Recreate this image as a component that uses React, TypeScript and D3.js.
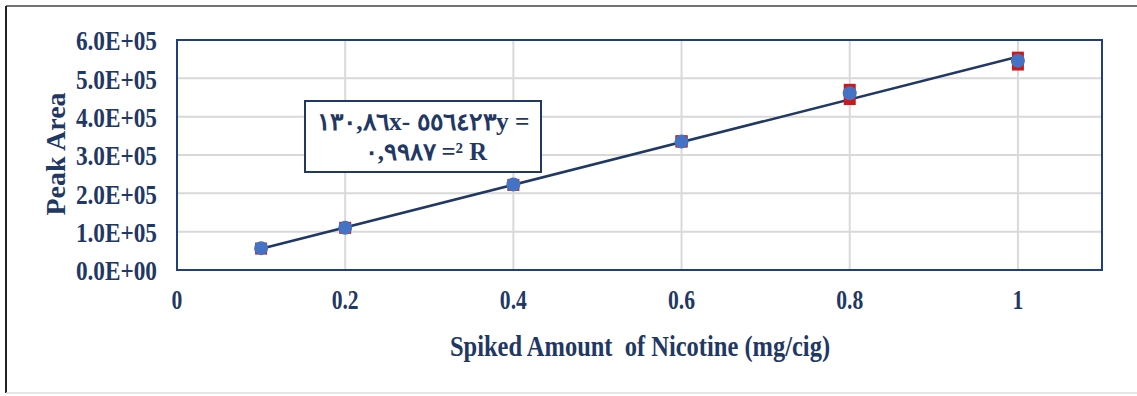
import React from "react";
import * as d3 from "d3";

const meanX = [0.1, 0.2, 0.4, 0.6, 0.8, 1.0];
const meanY = [57000, 110000, 223000, 335000, 461000, 546000];
const repX = [0.1, 0.2, 0.4, 0.6, 0.6, 0.8, 0.8, 1.0, 1.0];
const repY = [56000, 110000, 222000, 335000, 336000, 470000, 446000, 554000, 536000];
const yTicks = [0, 100000, 200000, 300000, 400000, 500000, 600000];
const xTicks = [0, 0.2, 0.4, 0.6, 0.8, 1];
const slope = 556423;
const intercept = -130.86;
const eqLine1 = "١٣٠,٨٦x- ٥٥٦٤٢٣y =";
const eqLine2 = "٠,٩٩٨٧ =² R";
const yTitle = "Peak Area";
const xTitle = "Spiked Amount  of Nicotine (mg/cig)";

const W = 1137;
const H = 396;
const navy = "#1F3864";
const serif = "Liberation Serif";

function Label(props: { x: number; y: number; anchor: string; size: number; sx?: number; sy?: number; children: React.ReactNode; pre?: boolean }) {
  const { x, y, anchor, size, sx = 0.95, sy = 1.15, children, pre } = props;
  return (
    <text
      transform={`translate(${x},${y}) scale(${sx},${sy})`}
      textAnchor={anchor}
      dominantBaseline="central"
      fontFamily={serif}
      fontWeight={700}
      fill={navy}
      fontSize={size}
      style={pre ? { whiteSpace: "pre" } : undefined}
    >
      {children}
    </text>
  );
}

export default function App() {
  const m = { left: 177, right: 1102, top: 40, bottom: 270 };
  const x = d3.scaleLinear().domain([0, 1.1]).range([m.left, m.right]);
  const y = d3.scaleLinear().domain([0, 600000]).range([m.bottom, m.top]);
  const fmt = (v: number) => {
    const e = v === 0 ? 0 : Math.floor(Math.log10(v));
    const mant = v / Math.pow(10, e);
    return `${mant.toFixed(1)}E+${String(e).padStart(2, "0")}`;
  };
  const line = d3
    .line<number>()
    .x((d) => x(d))
    .y((d) => y(slope * d + intercept));
  const trendX = [d3.min(meanX)!, d3.max(meanX)!];

  return (
    <svg
      width={W}
      height={H}
      style={{ position: "absolute", left: 0, top: 0, background: "#fff" }}
    >
      <line x1={6} y1={6} x2={W} y2={6} stroke="#444" strokeWidth={1.5} />
      <line x1={6} y1={6} x2={6} y2={393} stroke="#222" strokeWidth={2} />
      <line x1={6} y1={393} x2={W} y2={393} stroke="#ddd" strokeWidth={1.5} />

      {yTicks.slice(1, -1).map((t) => (
        <line key={"gy" + t} x1={m.left} x2={m.right} y1={y(t)} y2={y(t)} stroke="#D9D9D9" strokeWidth={2} />
      ))}
      {xTicks.slice(1).map((t) => (
        <line key={"gx" + t} x1={x(t)} x2={x(t)} y1={m.top} y2={m.bottom} stroke="#D9D9D9" strokeWidth={2} />
      ))}

      <rect x={m.left} y={m.top} width={m.right - m.left} height={m.bottom - m.top} fill="none" stroke="#203F80" strokeWidth={2} />

      <path d={line(trendX) || ""} stroke={navy} strokeWidth={2.5} fill="none" />

      {repX.map((xv, i) => (
        <rect key={"r" + i} x={x(xv) - 6} y={y(repY[i]) - 6} width={12} height={12} fill="#D01818" />
      ))}
      {meanX.map((xv, i) => (
        <circle key={"c" + i} cx={x(xv)} cy={y(meanY[i])} r={7} fill="#4472C4" />
      ))}

      <rect x={305} y={101} width={236} height={71} fill="#fff" stroke={navy} strokeWidth={2} />
      <text
        transform="translate(423,122) scale(1,1.1)"
        textAnchor="middle"
        dominantBaseline="central"
        fontFamily={serif}
        fontWeight={700}
        fill={navy}
        fontSize={22}
        textLength={213}
        lengthAdjust="spacingAndGlyphs"
        style={{ direction: "ltr", unicodeBidi: "bidi-override" }}
      >
        {eqLine1}
      </text>
      <text
        transform="translate(426,152) scale(1,1.1)"
        textAnchor="middle"
        dominantBaseline="central"
        fontFamily={serif}
        fontWeight={700}
        fill={navy}
        fontSize={22}
        textLength={122}
        lengthAdjust="spacingAndGlyphs"
        style={{ direction: "ltr", unicodeBidi: "bidi-override" }}
      >
        {eqLine2}
      </text>

      {yTicks.map((t) => (
        <Label key={"yt" + t} x={157} y={y(t) + 1} anchor="end" size={24} sx={0.97}>
          {fmt(t)}
        </Label>
      ))}
      {xTicks.map((t) => (
        <Label key={"xt" + t} x={x(t)} y={300} anchor="middle" size={24} sx={0.9}>
          {String(t)}
        </Label>
      ))}

      <Label x={640} y={346} anchor="middle" size={25} sx={0.98} pre>
        {xTitle}
      </Label>
      <text
        transform={`translate(55,154) rotate(-90)`}
        textAnchor="middle"
        dominantBaseline="central"
        fontFamily={serif} fontWeight={700} fill={navy}
        fontSize={28}
      >
        {yTitle}
      </text>
    </svg>
  );
}
